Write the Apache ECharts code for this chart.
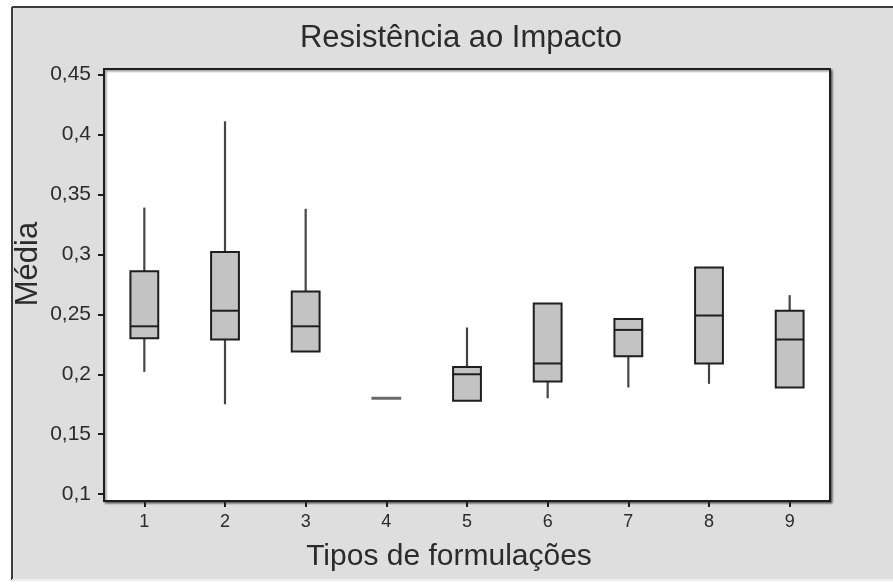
<!DOCTYPE html>
<html>
<head>
<meta charset="utf-8">
<script src="https://cdn.jsdelivr.net/npm/echarts@6/dist/echarts.min.js"></script>
<style>
html,body{margin:0;padding:0;background:#fff;}
#c{width:893px;height:587px;}
</style>
</head>
<body>
<div id="c"></div>
<script>
// Data
const categories = ['1','2','3','4','5','6','7','8','9'];
const minValues    = [0.202, 0.175, 0.219, 0.180, 0.178, 0.180, 0.189, 0.192, 0.189];
const q1Values     = [0.230, 0.229, 0.219, 0.180, 0.178, 0.194, 0.215, 0.209, 0.189];
const medianValues = [0.240, 0.253, 0.240, 0.180, 0.200, 0.209, 0.237, 0.249, 0.229];
const q3Values     = [0.286, 0.302, 0.269, 0.180, 0.206, 0.259, 0.246, 0.289, 0.253];
const maxValues    = [0.339, 0.411, 0.338, 0.180, 0.239, 0.259, 0.246, 0.289, 0.266];
const yTickValues  = [0.1, 0.15, 0.2, 0.25, 0.3, 0.35, 0.4, 0.45];

const boxData = categories.map((c, i) => [i, minValues[i], q1Values[i], medianValues[i], q3Values[i], maxValues[i]]);

const chart = echarts.init(document.getElementById('c'), null, {renderer: 'canvas'});
const FONT = "'Liberation Sans', Arial, Helvetica, sans-serif";

function renderBox(params, api) {
  const x = api.value(0);
  const vMin = api.value(1), vQ1 = api.value(2), vMed = api.value(3), vQ3 = api.value(4), vMax = api.value(5);
  const pMin = api.coord([x, vMin]);
  const pQ1 = api.coord([x, vQ1]);
  const pMed = api.coord([x, vMed]);
  const pQ3 = api.coord([x, vQ3]);
  const pMax = api.coord([x, vMax]);
  const bw = api.size([1, 0])[0] * 0.345;
  const cx = pMed[0];
  const children = [];
  if (vMax > vQ3) {
    children.push({type: 'line', shape: {x1: cx, y1: pMax[1], x2: cx, y2: pQ3[1]},
      style: {stroke: '#444444', lineWidth: 2.2}});
  }
  if (vMin < vQ1) {
    children.push({type: 'line', shape: {x1: cx, y1: pQ1[1], x2: cx, y2: pMin[1]},
      style: {stroke: '#444444', lineWidth: 2.2}});
  }
  const h = pQ1[1] - pQ3[1];
  if (h > 0.5) {
    children.push({type: 'rect', shape: {x: cx - bw / 2, y: pQ3[1], width: bw, height: h},
      style: {fill: '#c3c3c3', stroke: '#1e1e1e', lineWidth: 2}});
    children.push({type: 'line', shape: {x1: cx - bw / 2, y1: pMed[1], x2: cx + bw / 2, y2: pMed[1]},
      style: {stroke: '#1e1e1e', lineWidth: 2}});
  } else {
    children.push({type: 'line', shape: {x1: cx - bw / 2 - 1, y1: pMed[1], x2: cx + bw / 2 + 1, y2: pMed[1]},
      style: {stroke: '#6a6a6a', lineWidth: 3}});
  }
  return {type: 'group', children: children};
}

const option = {
  backgroundColor: '#ffffff',
  animation: false,
  graphic: [
    {type: 'rect', left: 12, top: 7, shape: {width: 881, height: 573},
      style: {fill: '#dedede', stroke: null}, z: -10, silent: true},
    {type: 'line', shape: {x1: 12, y1: 7, x2: 893, y2: 7}, style: {stroke: '#3c3c3c', lineWidth: 2}, z: -9, silent: true},
    {type: 'line', shape: {x1: 12, y1: 7, x2: 12, y2: 580}, style: {stroke: '#3c3c3c', lineWidth: 2}, z: -9, silent: true},
    {type: 'line', shape: {x1: 12, y1: 580, x2: 893, y2: 580}, style: {stroke: '#ececec', lineWidth: 2}, z: -9, silent: true}
  ],
  title: {
    text: 'Resistência ao Impacto',
    left: 461, top: 23, textAlign: 'center', padding: 0,
    textStyle: {fontFamily: FONT, fontSize: 31, fontWeight: 'normal', color: '#2b2b2b'}
  },
  grid: {
    left: 104, top: 69, right: 63, bottom: 86,
    show: true, backgroundColor: '#ffffff', borderColor: '#1e1e1e', borderWidth: 2,
    shadowColor: 'rgba(0,0,0,0.45)', shadowBlur: 2, shadowOffsetX: 1.5, shadowOffsetY: 1.5,
    containLabel: false, outerBoundsMode: 'none'
  },
  xAxis: {
    type: 'category',
    data: categories,
    boundaryGap: true,
    name: 'Tipos de formulações',
    nameLocation: 'middle',
    nameGap: 41,
    nameMoveOverlap: false,
    nameTextStyle: {fontFamily: FONT, fontSize: 30, color: '#2b2b2b', padding: [0, 36, 0, 0]},
    axisLine: {show: true, lineStyle: {color: '#1e1e1e', width: 2}},
    axisTick: {show: true, alignWithLabel: true, length: 6, lineStyle: {color: '#1e1e1e', width: 2}},
    axisLabel: {fontFamily: FONT, fontSize: 18, color: '#2b2b2b', margin: 12},
    splitLine: {show: false}
  },
  yAxis: {
    type: 'value',
    min: 0.0943,
    max: 0.4546,
    name: 'Média',
    nameLocation: 'middle',
    nameGap: 60,
    nameMoveOverlap: false,
    nameTextStyle: {fontFamily: FONT, fontSize: 31, color: '#2b2b2b', padding: [0, 0, 0, 42]},
    axisLine: {show: true, lineStyle: {color: '#1e1e1e', width: 2}},
    axisTick: {show: true, length: 6, customValues: yTickValues, lineStyle: {color: '#1e1e1e', width: 2}},
    axisLabel: {
      fontFamily: FONT, fontSize: 21, color: '#2b2b2b', margin: 13,
      customValues: yTickValues,
      formatter: function (v) { return String(+(+v).toFixed(2)).replace('.', ','); }
    },
    splitLine: {show: false}
  },
  series: [{
    type: 'custom',
    renderItem: renderBox,
    encode: {x: 0, y: [1, 2, 3, 4, 5]},
    data: boxData,
    clip: false
  }]
};
chart.setOption(option);
</script>
</body>
</html>
